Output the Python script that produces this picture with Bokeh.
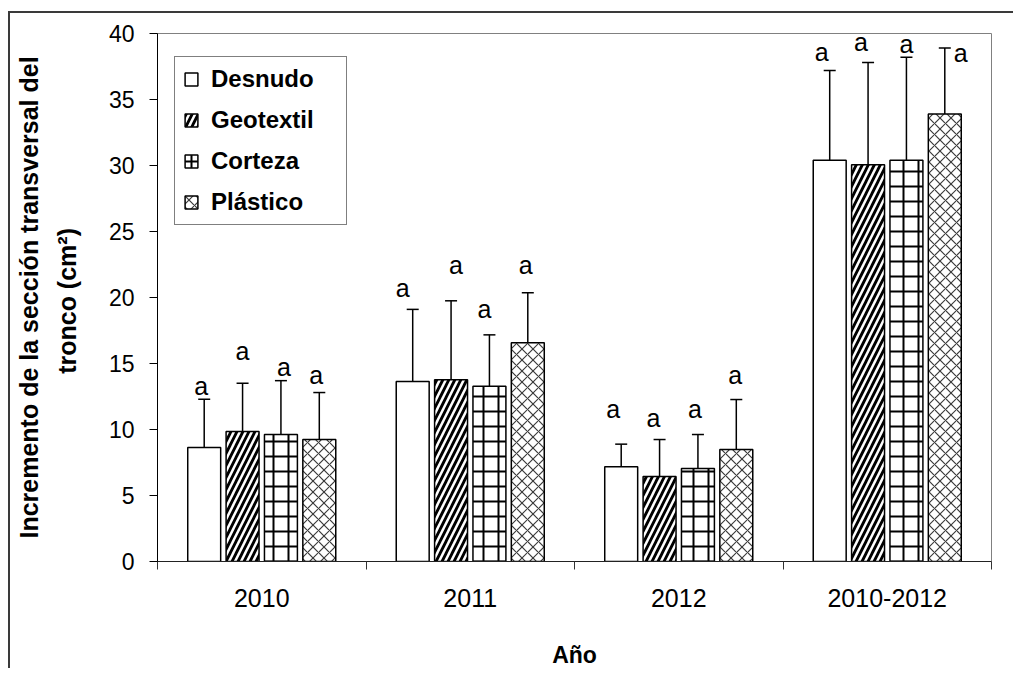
from bokeh.plotting import figure
from bokeh.models import (ColumnDataSource, Range1d, FixedTicker, Whisker, TeeHead,
                          Legend, LegendItem, LinearAxis)
from bokeh.core.properties import value
from bokeh.embed import file_html
from bokeh.resources import INLINE

# ---------------- data ----------------
years = ["2010", "2011", "2012", "2010-2012"]
series = ["Desnudo", "Geotextil", "Corteza", "Plástico"]

desnudo = [8.64, 13.64, 7.17, 30.4]
geotextil = [9.85, 13.76, 6.44, 30.05]
corteza = [9.62, 13.28, 7.05, 30.4]
plastico = [9.24, 16.57, 8.48, 33.9]

desnudo_err = [3.66, 5.46, 1.72, 6.8]
geotextil_err = [3.65, 5.99, 2.80, 7.75]
corteza_err = [4.08, 3.89, 2.57, 7.8]
plastico_err = [3.56, 3.79, 3.79, 5.0]

desnudo_letters = ["a", "a", "a", "a"]
geotextil_letters = ["a", "a", "a", "a"]
corteza_letters = ["a", "a", "a", "a"]
plastico_letters = ["a", "a", "a", "a"]

y_ticks = [0, 5, 10, 15, 20, 25, 30, 35, 40]

# ---------------- layout / style ----------------
FONT = "Liberation Sans"
bar_offsets = [-0.276, -0.092, 0.092, 0.276]
bar_width = 0.158
# letter placement (pixels): horizontal shift, and height of letter centre above the cap
label_dx = [[-3, -10, -8, -8], [0, 5, -6, -7], [3, -5, -3, 0], [-3, -2, -1, 16]]
label_dy = [[12, 20, 34, 17], [31, 34, 20, 19], [12, 24, 24, 12], [16, 26, 23, -6]]

styles = [
    dict(fill_color="white"),
    dict(fill_color="white", hatch_pattern="/", hatch_color="black", hatch_weight=2.8, hatch_scale=12),
    dict(fill_color="white", hatch_pattern="+", hatch_color="black", hatch_weight=2, hatch_scale=15),
    dict(fill_color="white", hatch_pattern="x", hatch_color="#3a3a3a", hatch_weight=1.2, hatch_scale=11),
]

means = [desnudo, geotextil, corteza, plastico]
errs = [desnudo_err, geotextil_err, corteza_err, plastico_err]
letters = [desnudo_letters, geotextil_letters, corteza_letters, plastico_letters]

p = figure(width=1005, height=657, output_backend="svg", toolbar_location=None,
           x_range=Range1d(0, len(years)), y_range=Range1d(0, 40),
           min_border_left=147, min_border_right=24, min_border_top=20, min_border_bottom=109)
p.styles = {"border-top": "2px solid #3a3a3a", "border-left": "2px solid #3a3a3a",
            "margin-top": "11px", "margin-left": "8px"}
p.background_fill_color = "white"
p.border_fill_color = "white"
p.outline_line_color = "#808080"
p.outline_line_width = 1
p.xgrid.visible = False
p.ygrid.visible = False

legend_items = []
for k, name in enumerate(series):
    xs = [i + 0.5 + bar_offsets[k] for i in range(len(years))]
    upper = [m + e for m, e in zip(means[k], errs[k])]
    src = ColumnDataSource(dict(
        x=xs, top=means[k], upper=upper, letter=letters[k],
        dx=label_dx[k], dyo=[-d - 1.5 for d in label_dy[k]]))
    r = p.vbar(x="x", top="top", bottom=0, width=bar_width, source=src,
               line_color="black", line_width=1.5, **styles[k])
    legend_items.append(LegendItem(label=name, renderers=[r]))
    w = Whisker(source=src, base="x", upper="upper", lower="top", dimension="height",
                line_color="black", line_width=1.5,
                upper_head=TeeHead(size=12, line_color="black", line_width=1.5),
                lower_head=None)
    p.add_layout(w)
    p.text(x="x", y="upper", text="letter", source=src, x_offset="dx", y_offset="dyo",
           text_font=value(FONT), text_font_size="25px", text_color="black",
           text_align="center", text_baseline="alphabetic")

# x axis: labels at category centres, tick marks at category boundaries
xa = p.xaxis[0]
xa.ticker = FixedTicker(ticks=[i + 0.5 for i in range(len(years))],
                        minor_ticks=list(range(len(years) + 1)))
xa.major_label_overrides = {i + 0.5: y for i, y in enumerate(years)}
xa.major_tick_out = 0
xa.major_tick_in = 0
xa.major_tick_line_color = None
xa.minor_tick_out = 8
xa.minor_tick_in = 0
xa.minor_tick_line_color = "#333333"
xa.minor_tick_line_width = 1
xa.axis_line_color = "#222222"
xa.axis_line_width = 1
xa.major_label_text_font = FONT
xa.major_label_text_font_size = "25px"
xa.major_label_text_color = "black"
xa.major_label_standoff = 19
xa.axis_label = "Año"
xa.axis_label_text_font = FONT
xa.axis_label_text_font_size = "23px"
xa.axis_label_text_font_style = "bold"
xa.axis_label_text_color = "black"
xa.axis_label_standoff = 32

# y axis
ya = p.yaxis[0]
ya.ticker = FixedTicker(ticks=y_ticks)
ya.major_tick_out = 8
ya.major_tick_in = 0
ya.minor_tick_line_color = None
ya.major_tick_line_color = "black"
ya.axis_line_color = "black"
ya.major_label_text_font = FONT
ya.major_label_text_font_size = "23px"
ya.major_label_text_color = "black"
ya.major_label_standoff = 15
ya.axis_label = "tronco  (cm²)"
ya.axis_label_text_font = FONT
ya.axis_label_text_font_size = "25px"
ya.axis_label_text_font_style = "bold"
ya.axis_label_text_color = "black"
ya.axis_label_standoff = 25

ya2 = LinearAxis(ticker=FixedTicker(ticks=[]), axis_line_color=None,
                 major_tick_line_color=None, minor_tick_line_color=None,
                 major_tick_out=0, major_tick_in=0, minor_tick_out=0, minor_tick_in=0,
                 major_label_text_font_size="0px",
                 axis_label="Incremento de la sección transversal del",
                 axis_label_text_font=FONT, axis_label_text_font_size="25px",
                 axis_label_text_font_style="bold", axis_label_text_color="black",
                 axis_label_standoff=7)
p.add_layout(ya2, "left")

legend = Legend(items=legend_items, location=(17, 336), orientation="vertical",
                border_line_color="black", border_line_width=1,
                background_fill_color="white", background_fill_alpha=1,
                padding=8, spacing=13, label_height=28, label_width=127,
                glyph_height=16, glyph_width=16,
                label_standoff=12, label_text_font=FONT, label_text_font_size="24px",
                label_text_font_style="bold", label_text_color="black", margin=0)
p.add_layout(legend)

open("out.html", "w").write(file_html(p, INLINE, title="Incremento de la sección transversal del tronco"))
